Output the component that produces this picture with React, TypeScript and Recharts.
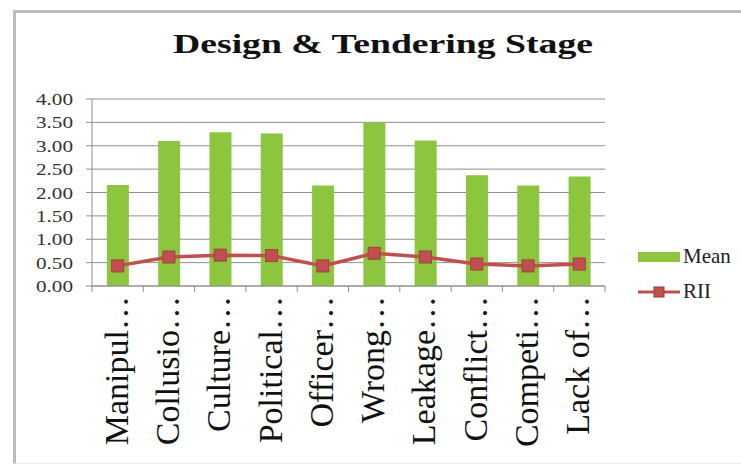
import React from 'react'
import {
  BarChart, Bar, Line, XAxis, YAxis, CartesianGrid,
} from 'recharts'

const categories = [
  'Manipul…', 'Collusio…', 'Culture…', 'Political…', 'Officer…',
  'Wrong…', 'Leakage…', 'Conflict…', 'Competi…', 'Lack of…',
]
const meanValues = [2.16, 3.1, 3.29, 3.26, 2.15, 3.5, 3.11, 2.37, 2.15, 2.34]
const riiValues = [0.43, 0.62, 0.66, 0.65, 0.43, 0.7, 0.62, 0.47, 0.43, 0.47]
const yTicks = [0, 0.5, 1, 1.5, 2, 2.5, 3, 3.5, 4]

const SERIF = 'Liberation Serif, serif'
const GREEN = '#8CC63F'
const RED = '#C0504D'
const GRID = '#8f8f8f'

const rows = categories.map((name, i) => ({
  name,
  Mean: meanValues[i],
  RII: riiValues[i],
}))

const HALF_BAND = 25.65

function XTick(props: any) {
  const { x, y, payload, index } = props
  const last = index === categories.length - 1
  return (
    <g>
      <line x1={x - HALF_BAND} y1={y} x2={x - HALF_BAND} y2={y + 6} stroke={GRID} />
      {last && <line x1={x + HALF_BAND} y1={y} x2={x + HALF_BAND} y2={y + 6} stroke={GRID} />}
      <text
        x={x}
        y={y + 10}
        dy={10}
        transform={`rotate(-90, ${x}, ${y + 10})`}
        textAnchor="end"
        style={{ fontFamily: SERIF }}
        fontSize={34}
        fill="#111"
      >
        {payload.value}
      </text>
    </g>
  )
}

function YTick(props: any) {
  const { x, y, payload } = props
  return (
    <text
      x={x}
      y={y}
      dy="0.36em"
      textAnchor="end"
      style={{ fontFamily: SERIF }}
      fontSize={17}
      textLength={37}
      lengthAdjust="spacingAndGlyphs"
      fill="#333"
    >
      {Number(payload.value).toFixed(2)}
    </text>
  )
}

function LegendBox() {
  const text = { fontFamily: SERIF, fontSize: 21, color: '#222', marginLeft: 2 }
  return (
    <div style={{ position: 'absolute', left: 637, top: 239, width: 104 }}>
      <div style={{ display: 'flex', alignItems: 'center', height: 35 }}>
        <svg width={44} height={12}>
          <rect x={1} y={1} width={42} height={10} fill={GREEN} />
        </svg>
        <span style={text}>Mean</span>
      </div>
      <div style={{ display: 'flex', alignItems: 'center', height: 35 }}>
        <svg width={44} height={12}>
          <line x1={1} y1={6} x2={43} y2={6} stroke={RED} strokeWidth={3} />
          <rect x={17} y={1} width={10} height={10} fill={RED} stroke="#9b3b39" />
        </svg>
        <span style={text}>RII</span>
      </div>
    </div>
  )
}

function Square(props: any) {
  const { cx, cy } = props
  if (cx == null || cy == null) return null
  return <rect x={cx - 6} y={cy - 6} width={12} height={12} fill={RED} stroke="#a3403d" strokeWidth={1} />
}

export default function App() {
  return (
    <div style={{ position: 'absolute', left: 0, top: 0, width: 741, height: 465, background: '#fff', overflow: 'hidden', fontFamily: SERIF }}>
      <div
        style={{
          position: 'absolute', left: 13, top: 10, width: 741, height: 450,
          borderTop: '3px solid #bdbdbd', borderLeft: '3px solid #bdbdbd', borderBottom: '1px solid #ececec',
        }}
      />
      <svg width={741} height={70} style={{ position: 'absolute', left: 0, top: 0 }}>
        <text
          x={383}
          y={53}
          textAnchor="middle"
          style={{ fontFamily: SERIF }}
          fontWeight="bold"
          fontSize={28}
          textLength={420}
          lengthAdjust="spacingAndGlyphs"
          fill="#111"
        >
          Design &amp; Tendering Stage
        </text>
      </svg>
      <div style={{ position: 'absolute', left: 0, top: 0 }}>
        <BarChart
          width={741}
          height={465}
          data={rows}
          margin={{ top: 99, right: 136, bottom: 0, left: 0 }}
          barCategoryGap="29%"
        >
          <CartesianGrid vertical={false} stroke={GRID} />
          <XAxis
            dataKey="name"
            height={179}
            interval={0}
            stroke={GRID}
            tickLine={false}
            tickSize={0}
            tickMargin={0}
            tick={<XTick />}
          />
          <YAxis
            width={92}
            domain={[0, 4]}
            ticks={yTicks}
            stroke={GRID}
            tickSize={6}
            tickMargin={13}
            tick={<YTick />}
          />
          <Bar dataKey="Mean" fill={GREEN} isAnimationActive={false} />
          <Line
            dataKey="RII"
            stroke={RED}
            strokeWidth={3.5}
            dot={<Square />}
            activeDot={false}
            isAnimationActive={false}
          />
        </BarChart>
      </div>
      <LegendBox />
    </div>
  )
}
